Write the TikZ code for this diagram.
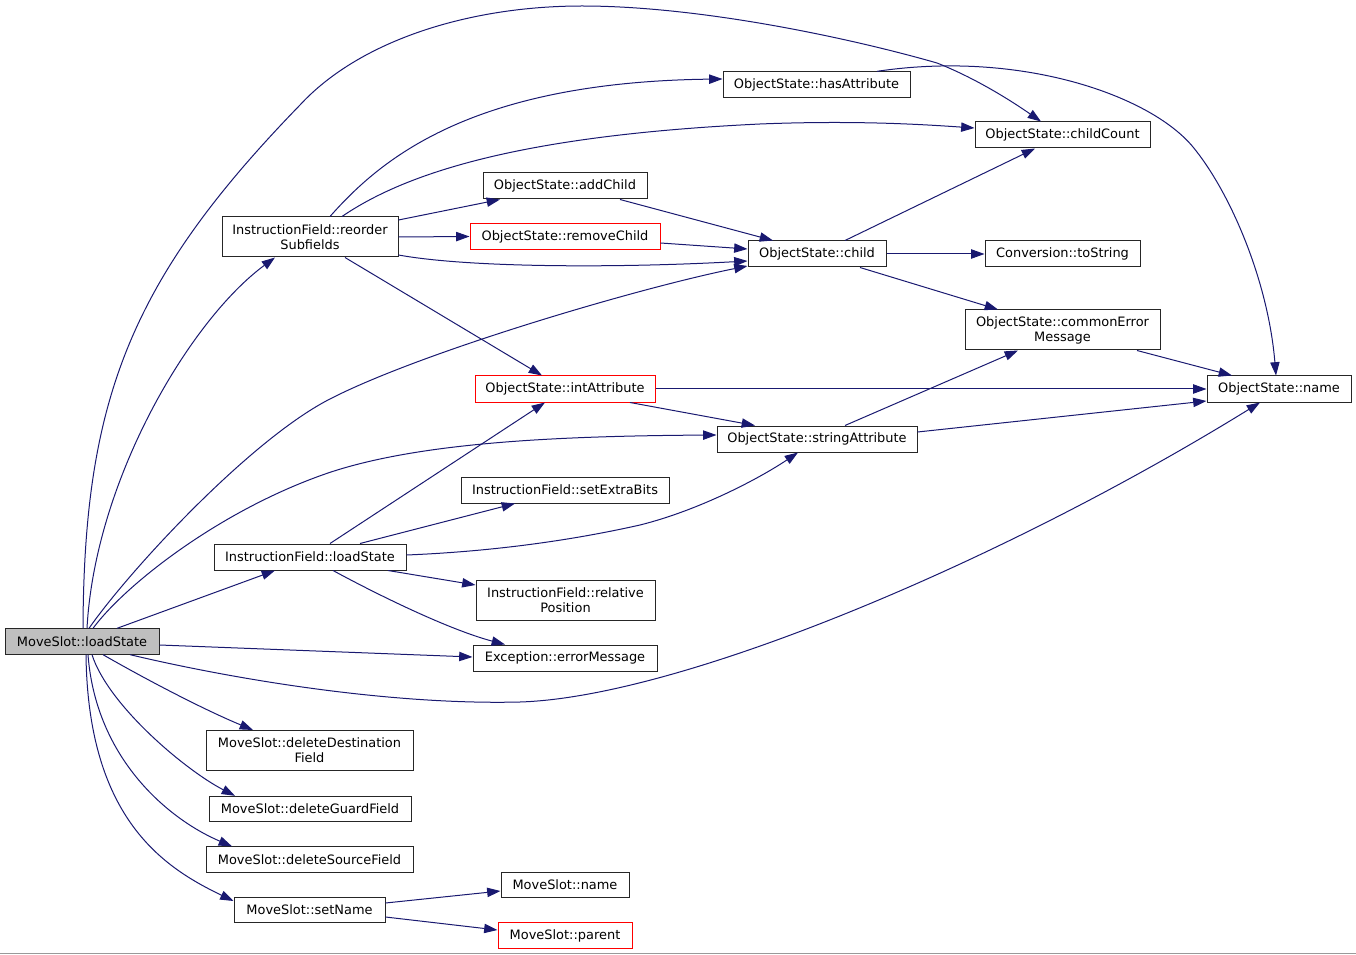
\documentclass[tikz,border=0pt]{standalone}
\usepackage{fontspec}
\setmainfont{DejaVu Sans}
\usetikzlibrary{arrows.meta}
\definecolor{edgeblue}{HTML}{191970}
\definecolor{nodegray}{HTML}{BFBFBF}
\tikzset{
  box/.style={draw=black!85, line width=0.75pt, fill=white, inner sep=0pt, align=center,
    font=\fontsize{9.7pt}{11.3pt}\selectfont},
  redbox/.style={box, draw=red},
  edge/.style={draw=edgeblue, line width=0.75pt, -{Triangle[length=10pt,width=7pt]}},
}
\begin{document}
\begin{tikzpicture}[x=0.75pt,y=-0.75pt]
\useasboundingbox (0,0) rectangle (1356,955);
\draw[black!40, line width=0.75pt] (0,953.5) -- (1356,953.5);

% nodes
\node[box, fill=nodegray, minimum width=115.5pt, minimum height=19pt] (load) at (82,641.5) {MoveSlot::loadState};
\node[box, minimum width=132pt, minimum height=30pt] (reorder) at (310,237) {InstructionField::reorder\\Subfields};
\node[box, minimum width=140.25pt, minimum height=19pt] (hasAttr) at (816.5,84.5) {ObjectState::hasAttribute};
\node[box, minimum width=131.25pt, minimum height=19.5pt] (childCount) at (1062.5,135) {ObjectState::childCount};
\node[box, minimum width=123pt, minimum height=19.5pt] (addChild) at (565,186) {ObjectState::addChild};
\node[redbox, minimum width=142.5pt, minimum height=19pt] (removeChild) at (565,236.5) {ObjectState::removeChild};
\node[box, minimum width=103.5pt, minimum height=19.5pt] (child) at (817,254) {ObjectState::child};
\node[box, minimum width=116.25pt, minimum height=19.5pt] (toString) at (1062.5,254) {Conversion::toString};
\node[box, minimum width=146.25pt, minimum height=30pt] (commonErr) at (1062.5,330) {ObjectState::commonError\\Message};
\node[box, minimum width=108pt, minimum height=19.5pt] (osname) at (1279,389) {ObjectState::name};
\node[redbox, minimum width=135pt, minimum height=19.5pt] (intAttr) at (565,389) {ObjectState::intAttribute};
\node[box, minimum width=150pt, minimum height=19.5pt] (strAttr) at (817,439) {ObjectState::stringAttribute};
\node[box, minimum width=156pt, minimum height=19.5pt] (setExtra) at (565,490) {InstructionField::setExtraBits};
\node[box, minimum width=144pt, minimum height=19.5pt] (ifload) at (310,557) {InstructionField::loadState};
\node[box, minimum width=134.25pt, minimum height=30pt] (relPos) at (565.5,600) {InstructionField::relative\\Position};
\node[box, minimum width=138pt, minimum height=19.5pt] (errMsg) at (565,658) {Exception::errorMessage};
\node[box, minimum width=155.25pt, minimum height=30pt] (delDest) at (309.5,750.5) {MoveSlot::deleteDestination\\Field};
\node[box, minimum width=151.5pt, minimum height=19pt] (delGuard) at (310,809) {MoveSlot::deleteGuardField};
\node[box, minimum width=155.25pt, minimum height=19pt] (delSrc) at (309.5,859.5) {MoveSlot::deleteSourceField};
\node[box, minimum width=113.25pt, minimum height=19pt] (setName) at (309.5,910) {MoveSlot::setName};
\node[box, minimum width=96pt, minimum height=19pt] (msname) at (565,885) {MoveSlot::name};
\node[redbox, minimum width=100.5pt, minimum height=19.5pt] (parent) at (565,935.5) {MoveSlot::parent};

% edges from MoveSlot::loadState
\draw[edge] (83,0 |- load.north) .. controls (84,400) and (130,280) .. (300,105)
  .. controls (360,40) and (470,6) .. (582,6)
  .. controls (700,6) and (850,38) .. (937,63)
  .. controls (975,78) and (1010,100) .. (childCount.north -| 1041,0);
\draw[edge] (87,0 |- load.north) .. controls (95,480) and (190,320) .. (reorder.south -| 275,0);
\draw[edge] (89,0 |- load.north) .. controls (129,571) and (248,442) .. (328,400)
  .. controls (418,353) and (638,288) .. (child.west |- 0,266);
\draw[edge] (93,0 |- load.north) .. controls (125,585) and (220,510) .. (328,473)
  .. controls (420,442) and (560,436) .. (strAttr.west |- 0,435);
\draw[edge] (load.north -| 117,0) -- (ifload.south -| 275,0);
\draw[edge] (load.east |- 0,645) -- (errMsg.west |- 0,657);
\draw[edge] (130,0 |- load.south) .. controls (250,683) and (400,705) .. (520,702)
  .. controls (680,697) and (1000,563) .. (osname.south -| 1260,0);
\draw[edge] (103,0 |- load.south) .. controls (140,676) and (200,708) .. (delDest.north -| 253,0);
\draw[edge] (92,0 |- load.south) .. controls (108,705) and (185,770) .. (delGuard.north -| 235,0);
\draw[edge] (88,0 |- load.south) .. controls (96,760) and (170,820) .. (delSrc.north -| 232,0);
\draw[edge] (86,0 |- load.south) .. controls (88,820) and (165,868) .. (setName.west |- 0,901);

% edges from InstructionField::reorderSubfields
\draw[edge] (330,0 |- reorder.north) .. controls (380,160) and (470,82) .. (hasAttr.west |- 0,79);
\draw[edge] (342,0 |- reorder.north) .. controls (410,170) and (530,135) .. (760,124)
  .. controls (860,120) and (930,125) .. (childCount.west |- 0,128);
\draw[edge] (reorder.east |- 0,220) -- (addChild.south -| 500,0);
\draw[edge] (reorder.east) -- (removeChild.west);
\draw[edge] (reorder.east |- 0,255) .. controls (470,268) and (620,268) .. (child.west |- 0,261);
\draw[edge] (reorder.south -| 345,0) -- (intAttr.north -| 542,0);

% other edges
\draw[edge] (hasAttr.north -| 877,0) .. controls (1020,50) and (1150,95) .. (1193,147)
  .. controls (1230,192) and (1268,280) .. (osname.north -| 1276,0);
\draw[edge] (addChild.south -| 620,0) -- (child.north -| 773,0);
\draw[edge] (removeChild.east |- 0,243) -- (child.west |- 0,249);
\draw[edge] (child.north -| 845,0) -- (childCount.south -| 1035,0);
\draw[edge] (child.east) -- (toString.west);
\draw[edge] (child.south -| 860,0) -- (commonErr.north -| 998,0);
\draw[edge] (commonErr.south -| 1137,0) -- (osname.north -| 1232,0);
\draw[edge] (intAttr.east) -- (osname.west);
\draw[edge] (intAttr.south -| 630,0) -- (strAttr.north -| 755,0);
\draw[edge] (strAttr.north -| 845,0) -- (commonErr.south -| 1018,0);
\draw[edge] (strAttr.east |- 0,432) -- (osname.west |- 0,401);
\draw[edge] (ifload.north -| 330,0) -- (intAttr.south -| 545,0);
\draw[edge] (ifload.north -| 360,0) -- (setExtra.south -| 515,0);
\draw[edge] (ifload.east |- 0,555) .. controls (480,552) and (560,543) .. (640,525)
  .. controls (700,510) and (760,478) .. (strAttr.south -| 798,0);
\draw[edge] (ifload.south -| 388,0) -- (relPos.west |- 0,585);
\draw[edge] (ifload.south -| 333,0) .. controls (380,596) and (450,630) .. (errMsg.north -| 505,0);
\draw[edge] (setName.east |- 0,903) -- (msname.west |- 0,891);
\draw[edge] (setName.east |- 0,917) -- (parent.west |- 0,930);
\end{tikzpicture}
\end{document}
